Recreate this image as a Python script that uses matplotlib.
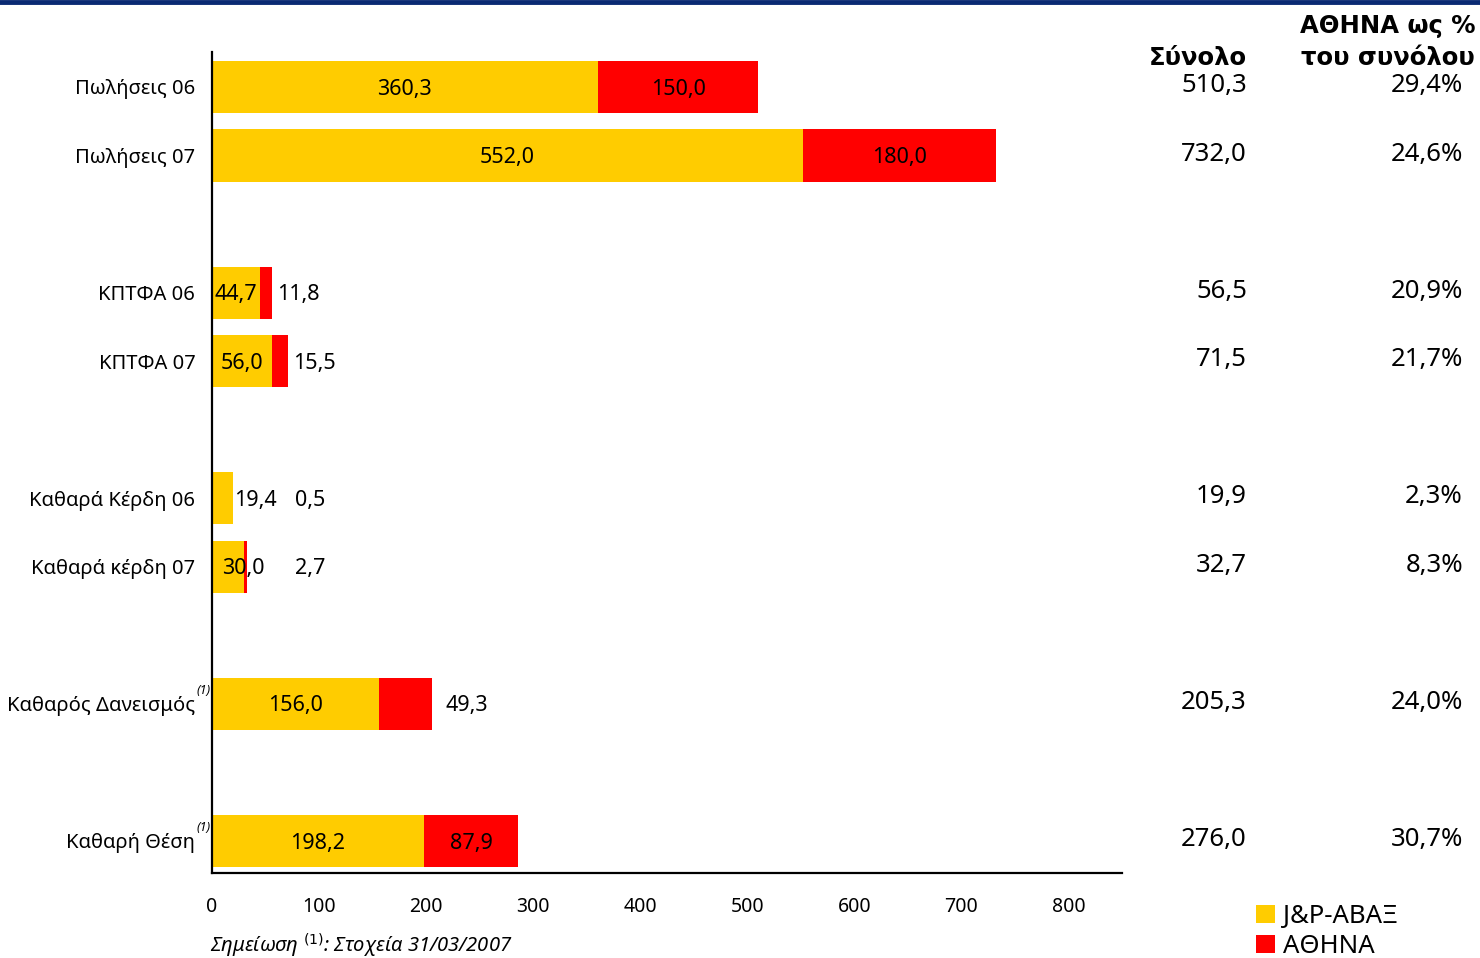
import matplotlib
matplotlib.use("Agg")
import matplotlib.pyplot as plt
import matplotlib.transforms as mtransforms
from matplotlib.lines import Line2D

# data
categories = ["Πωλήσεις 06", "Πωλήσεις 07", "ΚΠΤΦΑ 06", "ΚΠΤΦΑ 07",
              "Καθαρά Κέρδη 06", "Καθαρά κέρδη 07",
              "Καθαρός Δανεισμός", "Καθαρή Θέση"]
footnoted = [False, False, False, False, False, False, True, True]
row_pos = [0, 1, 3, 4, 6, 7, 9, 11]
jp_avax = [360.3, 552.0, 44.7, 56.0, 19.4, 30.0, 156.0, 198.2]
athena = [150.0, 180.0, 11.8, 15.5, 0.5, 2.7, 49.3, 87.9]
totals = ["510,3", "732,0", "56,5", "71,5", "19,9", "32,7", "205,3", "276,0"]
athena_pct = ["29,4%", "24,6%", "20,9%", "21,7%", "2,3%", "8,3%", "24,0%", "30,7%"]
x_ticks = [0, 100, 200, 300, 400, 500, 600, 700, 800]

YELLOW = "#FFCC00"
RED = "#FF0000"


def fmt(v):
    return ("%.1f" % v).replace(".", ",")


plt.rcParams['font.family'] = ['Noto Sans', 'DejaVu Sans']

fig = plt.figure(figsize=(14.8, 9.58), dpi=100)
ax = fig.add_axes([0.1432, 0.0887, 0.6149, 0.857])

b1 = ax.barh(row_pos, jp_avax, height=0.76, color=YELLOW, label="J&P-ΑΒΑΞ")
b2 = ax.barh(row_pos, athena, left=jp_avax, height=0.76, color=RED, label="ΑΘΗΝΑ")

ax.set_xlim(0, 850)
ax.set_ylim(11.47, -0.51)
ax.set_yticks(row_pos)
ax.set_yticklabels(categories, fontsize=14.5)
ax.set_xticks(x_ticks)
ax.set_xticklabels([str(t) for t in x_ticks], fontsize=14)
ax.tick_params(axis="y", length=0, pad=12)
ax.tick_params(axis="x", length=0, pad=17)
for s in ["top", "right"]:
    ax.spines[s].set_visible(False)
for s in ["left", "bottom"]:
    ax.spines[s].set_linewidth(1.6)
    ax.spines[s].set_color("black")

# superscript (1) next to the footnoted labels
ytrans = mtransforms.blended_transform_factory(ax.transAxes, ax.transData)
for y, flag in zip(row_pos, footnoted):
    if flag:
        ax.annotate("(1)", (0, y), xycoords=ytrans, xytext=(-1, 7),
                    textcoords="offset points", ha="right", va="baseline",
                    fontsize=9, style="italic")


def put(x, y, s, size, dx=0, ha="center", xycoords="data", dy=0):
    # vertically centre the digits (not the full font box) on y
    ax.annotate(s, (x, y), xycoords=xycoords, xytext=(dx, -0.357 * size + dy),
                textcoords="offset points", ha=ha, va="baseline", fontsize=size)


# labels on bars
LBL = 15.5
for i, y in enumerate(row_pos):
    jp = jp_avax[i]
    at = athena[i]
    end = jp + at
    if jp >= 40:
        put(jp / 2, y, fmt(jp), LBL)
    elif jp < 25:
        put(jp, y, fmt(jp), LBL, dx=1, ha="left")
    else:
        put(jp, y, fmt(jp), LBL, dx=-16, ha="left")
    if at >= 50:
        put(jp + at / 2, y, fmt(at), LBL)
    elif at >= 5:
        put(end, y, fmt(at), LBL, dx=10 if at > 30 else 3, ha="left")
    else:
        put(78, y, fmt(at), LBL, ha="left")

# right hand columns
trans = mtransforms.blended_transform_factory(fig.transFigure, ax.transData)
for i, y in enumerate(row_pos):
    put(1247 / 1480, y, totals[i], 18.5, ha="right", xycoords=trans, dy=3)
    put(1463 / 1480, y, athena_pct[i], 18.5, ha="right", xycoords=trans, dy=3)

HDR = dict(ha="right", va="baseline", fontsize=17.5, fontweight="bold",
           family="DejaVu Sans")
fig.text(1247 / 1480, 1 - 65 / 958, "Σύνολο", **HDR)
fig.text(1475 / 1480, 1 - 33 / 958, "ΑΘΗΝΑ ως %", **HDR)
fig.text(1475 / 1480, 1 - 65 / 958, "του συνόλου", **HDR)

# footnote
fig.text(210 / 1480, 1 - 952 / 958, "Σημείωση $^{(1)}$: Στοχεία 31/03/2007",
         ha="left", va="baseline", fontsize=14.5, style="italic")

# legend
fig.legend(handles=[b1, b2], loc="lower left", bbox_to_anchor=(1241 / 1480, -0.017),
           frameon=False, fontsize=18.5, handlelength=0.72, handleheight=0.72,
           handletextpad=0.32, labelspacing=0.2, borderpad=0.1)

# blue rule on top
fig.add_artist(Line2D([0, 1], [0.998, 0.998], transform=fig.transFigure,
                      color="#0A2A73", linewidth=3.5))

fig.savefig("out.png", dpi=100)
